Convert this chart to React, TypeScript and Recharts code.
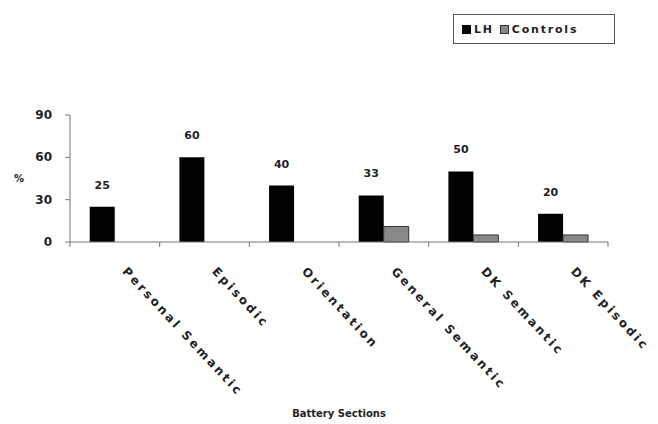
import { Bar, BarChart, LabelList, XAxis, YAxis } from "recharts";

const categories = ["Personal Semantic", "Episodic", "Orientation", "General Semantic", "DK Semantic", "DK Episodic"];
const lhValues = [25, 60, 40, 33, 50, 20];
const controlValues = [0, 0, 0, 11, 5, 5];
const yTicks = [0, 30, 60, 90];

const data = categories.map((name, i) => ({ name, lh: lhValues[i], controls: controlValues[i] }));

const W = 658;
const H = 424;
const LEFT = 70;
const RIGHT = 50;
const BAND = (W - LEFT - RIGHT) / categories.length;
const FONT = "'DejaVu Sans', Verdana, sans-serif";
const TEXT = "#222";
const AXIS = "#777";

function XTick({ x, y, payload, index }: any) {
  const ay = y - 8; // axis line position
  return (
    <g>
      <line x1={x + BAND / 2} y1={ay} x2={x + BAND / 2} y2={ay + 5} stroke={AXIS} />
      {index === 0 && <line x1={x - BAND / 2} y1={ay} x2={x - BAND / 2} y2={ay + 5} stroke={AXIS} />}
      <text
        x={x + 7}
        y={ay + 30}
        transform={`rotate(47 ${x + 7} ${ay + 30})`}
        textAnchor="start"
        fontFamily={FONT}
        fontWeight="bold"
        fontSize={12}
        letterSpacing={2.6}
        fill={TEXT}
      >
        {payload.value}
      </text>
    </g>
  );
}

function YTick({ x, y, payload }: any) {
  return (
    <text x={x - 11} y={y + 4} textAnchor="end" fontFamily={FONT} fontWeight="bold" fontSize={12} fill={TEXT}>
      {payload.value}
    </text>
  );
}

function LegendBox() {
  return (
    <div
      style={{
        position: "absolute",
        left: 453,
        top: 14,
        border: "1px solid #555",
        width: 162,
        height: 30,
        boxSizing: "border-box",
        display: "flex",
        alignItems: "center",
        paddingLeft: 8,
        fontFamily: FONT,
        fontWeight: "bold",
        fontSize: 11,
        letterSpacing: 1.8,
        color: TEXT,
      }}
    >
      <span style={{ width: 9, height: 9, background: "#000", display: "inline-block", marginRight: 3 }} />
      <span style={{ marginRight: 6 }}>LH</span>
      <span style={{ width: 9, height: 9, background: "#888", border: "1px solid #333", boxSizing: "border-box", display: "inline-block", marginRight: 3 }} />
      <span>Controls</span>
    </div>
  );
}

export default function App() {
  return (
    <div style={{ position: "absolute", left: 0, top: 0, width: W, height: H, background: "#fff" }}>
      <BarChart width={W} height={H} data={data} margin={{ top: 115, right: RIGHT, bottom: 0, left: 0 }} barGap={0} barCategoryGap="22%">
        <XAxis
          dataKey="name"
          height={182}
          interval={0}
          tick={<XTick />}
          tickLine={false}
          axisLine={{ stroke: AXIS }}
          label={{ value: "Battery Sections", position: "insideBottom", offset: 7, fontFamily: FONT, fontWeight: "bold", fontSize: 10, fill: TEXT }}
        />
        <YAxis
          width={LEFT}
          domain={[0, 90]}
          ticks={yTicks}
          tick={<YTick />}
          tickSize={5}
          tickLine={{ stroke: AXIS }}
          axisLine={{ stroke: AXIS }}
          label={{ value: "%", position: "insideLeft", offset: 14, fontFamily: FONT, fontWeight: "bold", fontSize: 10, fill: TEXT }}
        />
        <Bar dataKey="lh" name="LH" fill="#000" isAnimationActive={false}>
          <LabelList dataKey="lh" position="top" offset={18} fontFamily={FONT} fontWeight="bold" fontSize={11} fill={TEXT} />
        </Bar>
        <Bar dataKey="controls" name="Controls" fill="#888" stroke="#333" strokeWidth={1} isAnimationActive={false} />
      </BarChart>
      <LegendBox />
    </div>
  );
}
